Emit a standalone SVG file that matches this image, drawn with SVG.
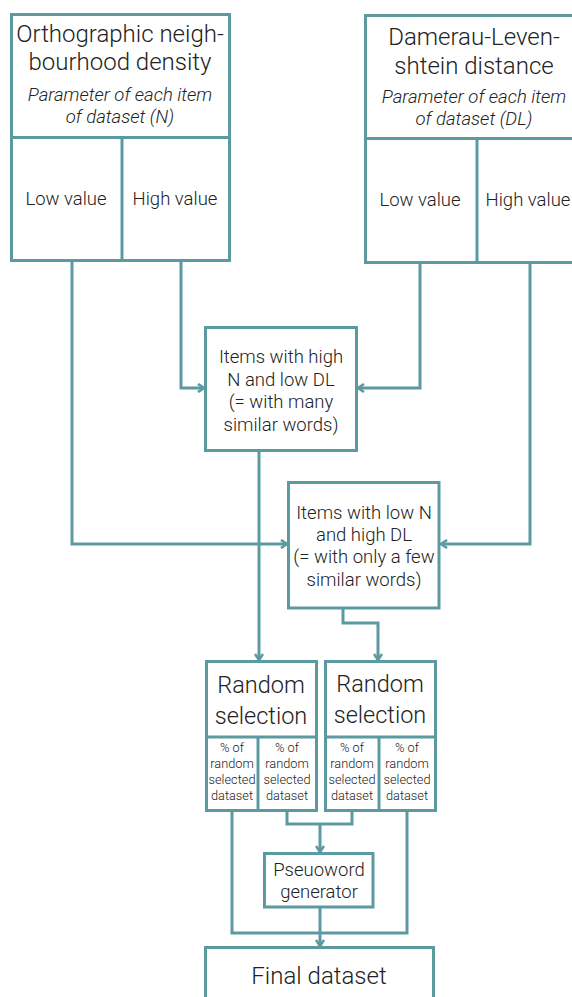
<svg xmlns="http://www.w3.org/2000/svg" width="572" height="997" viewBox="0 0 572 997">
<style>
.b{fill:#fff;stroke:#5b9aa0;stroke-width:3}
.c{fill:none;stroke:#5b9aa0;stroke-width:3}
text{font-family:Roboto,"Liberation Sans",sans-serif;font-weight:300;fill:#222;text-anchor:middle}
.t{font-size:24px}
.r{font-size:23.5px}
.i{font-size:18.5px;font-style:italic}
.m{font-size:18.5px}
.s{font-size:12.8px}
</style>
<defs>
<marker id="a" viewBox="0 0 10 10" refX="8" refY="5" markerWidth="10" markerHeight="10" markerUnits="userSpaceOnUse" orient="auto">
<path d="M2,1 L8,5 L2,9" fill="none" stroke="#5b9aa0" stroke-width="2.6"/>
</marker>
</defs>
<g id="connectors">
<polyline class="c" points="72,261 72,544 287,544" marker-end="url(#a)"/>
<polyline class="c" points="181,261 181,388 204,388" marker-end="url(#a)"/>
<polyline class="c" points="420,262 420,388 358,388" marker-end="url(#a)"/>
<polyline class="c" points="530,262 530,544 441,544" marker-end="url(#a)"/>
<polyline class="c" points="259,451 259,660" marker-end="url(#a)"/>
<polyline class="c" points="343,608 343,623 378,623 378,660" marker-end="url(#a)"/>
<polyline class="c" points="287,811 287,824 352,824 352,811"/>
<polyline class="c" points="320,824 320,852" marker-end="url(#a)"/>
<polyline class="c" points="232,811 232,933 407,933 407,811"/>
<polyline class="c" points="320,907 320,946" marker-end="url(#a)"/>
</g>
<g id="ortho">
<rect class="b" x="11.5" y="14.5" width="218" height="246"/>
<line class="c" x1="11.5" y1="137.5" x2="229.5" y2="137.5"/>
<line class="c" x1="122" y1="137.5" x2="122" y2="260.5"/>
<text class="t" x="120" y="42">Orthographic neigh-</text>
<text class="t" x="120" y="70">bourhood density</text>
<text class="i" x="120" y="101">Parameter of each item</text>
<text class="i" x="120" y="123">of dataset (N)</text>
<text class="m" x="66" y="205">Low value</text>
<text class="m" x="175" y="205">High value</text>
</g>
<g id="dl">
<rect class="b" x="365.5" y="15.5" width="220" height="247"/>
<line class="c" x1="365.5" y1="138.5" x2="585" y2="138.5"/>
<line class="c" x1="477" y1="138.5" x2="477" y2="262.5"/>
<text class="t" x="474" y="45">Damerau-Leven-</text>
<text class="t" x="474" y="74">shtein distance</text>
<text class="i" x="474" y="103">Parameter of each item</text>
<text class="i" x="474" y="125">of dataset (DL)</text>
<text class="m" x="420" y="206">Low value</text>
<text class="m" x="528" y="206">High value</text>
</g>
<g id="highN">
<rect class="b" x="205.5" y="327.5" width="151" height="123"/>
<text class="m" x="281" y="363">Items with high</text>
<text class="m" x="281" y="386">N and low DL</text>
<text class="m" x="281" y="408">(= with many</text>
<text class="m" x="281" y="431">similar words)</text>
</g>
<g id="lowN">
<rect class="b" x="288.5" y="482.5" width="150.5" height="125.5"/>
<text class="m" x="364" y="519">Items with low N</text>
<text class="m" x="364" y="541">and high DL</text>
<text class="m" x="364" y="563">(= with only a few</text>
<text class="m" x="364" y="586">similar words)</text>
</g>
<g id="rand1">
<rect class="b" x="206.5" y="661.5" width="110" height="149"/>
<line class="c" x1="206.5" y1="737" x2="316.5" y2="737"/>
<line class="c" x1="258" y1="737" x2="258" y2="810.5"/>
<text class="r" x="261" y="693">Random</text>
<text class="r" x="261" y="724">selection</text>
<text class="s" x="232" y="752">% of</text>
<text class="s" x="232" y="768">random</text>
<text class="s" x="232" y="784">selected</text>
<text class="s" x="232" y="800">dataset</text>
<text class="s" x="287" y="752">% of</text>
<text class="s" x="287" y="768">random</text>
<text class="s" x="287" y="784">selected</text>
<text class="s" x="287" y="800">dataset</text>
</g>
<g id="rand2">
<rect class="b" x="325.5" y="661.5" width="110" height="149"/>
<line class="c" x1="325.5" y1="737" x2="435.5" y2="737"/>
<line class="c" x1="379" y1="737" x2="379" y2="810.5"/>
<text class="r" x="380" y="692">Random</text>
<text class="r" x="380" y="723">selection</text>
<text class="s" x="352" y="752">% of</text>
<text class="s" x="352" y="768">random</text>
<text class="s" x="352" y="784">selected</text>
<text class="s" x="352" y="800">dataset</text>
<text class="s" x="407" y="752">% of</text>
<text class="s" x="407" y="768">random</text>
<text class="s" x="407" y="784">selected</text>
<text class="s" x="407" y="800">dataset</text>
</g>
<g id="pseudo">
<rect class="b" x="264.5" y="853.5" width="108.5" height="53.5"/>
<text class="m" x="319" y="876">Pseuoword</text>
<text class="m" x="319" y="898">generator</text>
</g>
<g id="final">
<rect class="b" x="205.5" y="947.5" width="228" height="60"/>
<text class="t" x="319" y="984">Final dataset</text>
</g>
</svg>
